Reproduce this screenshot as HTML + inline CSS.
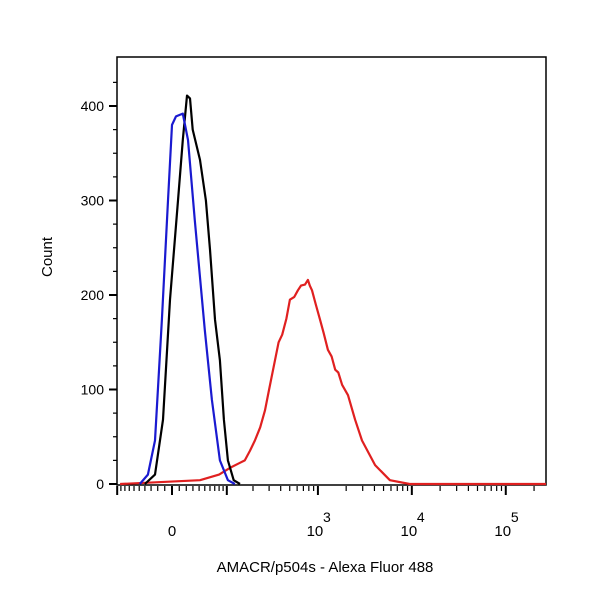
<!DOCTYPE html>
<html><head><meta charset="utf-8"><style>
body{margin:0;background:#fff;}
svg text{font-family:"Liberation Sans",sans-serif;fill:#000;}
</style></head><body>
<svg id="chart" width="600" height="600">
<rect x="117" y="57" width="429" height="428" fill="#fff" stroke="#000" stroke-width="1.5"/>
<g id="ticks"></g>
<g id="series"></g>
<text x="65" y="270" font-size="15" text-anchor="middle" transform="rotate(-90 52 270)">Count</text>
<text x="325" y="572" font-size="15" text-anchor="middle">AMACR/p504s - Alexa Fluor 488</text>
</svg>
<script>
const yTicks=[0,100,200,300,400];
const xMajorLabels=[{v:0,t:"0",e:""},{v:1000,t:"10",e:"3"},{v:10000,t:"10",e:"4"},{v:100000,t:"10",e:"5"}];
const blueX=[-49,-35,-24,-14,-5.5,0,5.5,15,22.5,33,50,64,82,103,125];
const blueY=[0,10,46,174,300,380,389,392,364,279,163,89,25,4,0];
const blackX=[-40,-24,-12.4,-2.7,8.3,15,21,25.5,29.6,41.5,52,60,70.6,82,92,103,121,143];
const blackY=[0,10,68,195,300,364,411,408,375,343,300,248,174,131,68,25,4,0];
const redX=[-92,41.5,80,109,140,162,185,210,240,271,300,347,380,415,460,502,560,611,660,728,782,820,865,950,1053,1150,1277,1400,1528,1650,1810,2090,2490,2950,4060,5840,9500,268000];
const redY=[0,4,10,17,22,25,35,46,60,78,100,131,150,158,175,195,198,205,210,211,216,210,205,190,174,160,142,135,121,118,105,94,68,46,20,4,0,0];
const NS="http://www.w3.org/2000/svg";
function xs(v){return 172+40.8*Math.asinh(v/56);}
function ys(c){return 484-0.945*c;}
function mk(tag,attrs,parent){const e=document.createElementNS(NS,tag);for(const k in attrs)e.setAttribute(k,attrs[k]);parent.appendChild(e);return e;}
const T=document.getElementById('ticks');
for(let c=0;c<=425;c+=25){
  const major=c%100===0;
  const l=mk('line',{x1:major?109:113,x2:117,y1:ys(c),y2:ys(c),stroke:'#000','stroke-width':major?2:1.2},T);
  
  
}
yTicks.forEach(c=>{
  const t=mk('text',{x:104,y:ys(c)+5,'font-size':14,'text-anchor':'end'},T);
  t.textContent=c;
  
  
});
const majors=[-100,0,100,1000,10000,100000];
const minors=[];
for(let v=-90;v<100;v+=10)if(v!==0)minors.push(v);
for(let k=2;k<=5;k++)for(let m=2;m<=9;m++)minors.push(m*Math.pow(10,k));
minors.forEach(v=>{const x=xs(v);if(x>546)return;
  const l=mk('line',{x1:x,x2:x,y1:486,y2:491,stroke:'#000','stroke-width':1.2},T);
  
  
});
majors.forEach(v=>{const x=xs(v);
  const l=mk('line',{x1:x,x2:x,y1:486,y2:495,stroke:'#000','stroke-width':2},T);
  
  
});
xMajorLabels.forEach(d=>{
  const t=mk('text',{x:xs(d.v)+(d.e?-3:0),y:536,'font-size':15,'text-anchor':'middle'},T);
  t.textContent=d.t;
  
  
  if(d.e){const s=mk('text',{x:xs(d.v)+9,y:522,'font-size':14,'text-anchor':'middle'},T);s.textContent=d.e;
  
  }
});
const S=document.getElementById('series');
function line(X,Y,color,name){
  let d=X.map((v,i)=>(i?'L':'M')+Math.min(xs(v),546).toFixed(1)+','+ys(Y[i]).toFixed(1)).join('');
  const p=mk('path',{d:d,fill:'none',stroke:color,'stroke-width':2.2,'stroke-linejoin':'round'},S);
  
  
}
line(redX,redY,'#e02020','red-histogram');
line(blackX,blackY,'#000','black-histogram');
line(blueX,blueY,'#1a1ad0','blue-histogram');
</script>
</body></html>
